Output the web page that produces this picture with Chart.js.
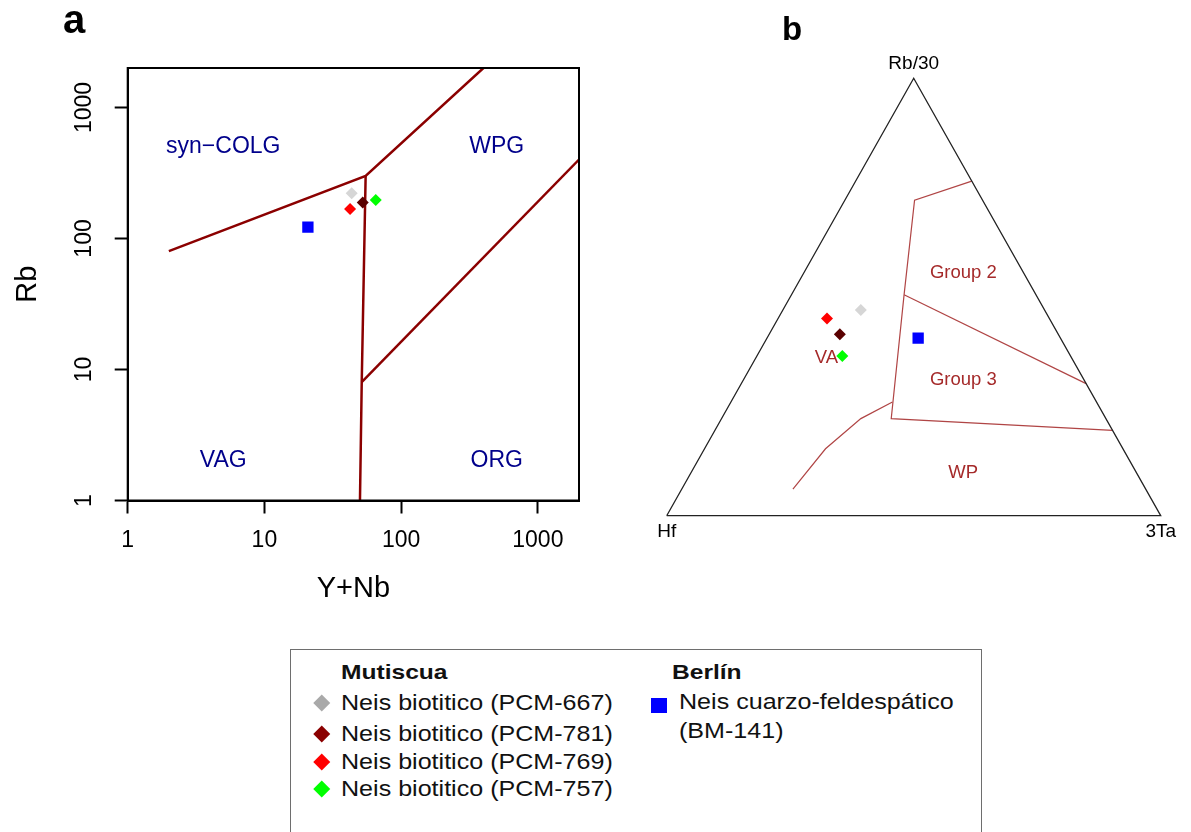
<!DOCTYPE html>
<html>
<head>
<meta charset="utf-8">
<script src="https://cdn.jsdelivr.net/npm/chart.js@4"></script>
<style>
  body { margin: 0; background: #fff; overflow: hidden; font-family: "Liberation Sans", Arial, sans-serif; }
  #wrap { position: relative; width: 1191px; height: 832px; overflow: hidden; }
  canvas { position: absolute; }
  #legendBox { position: absolute; left: 290px; top: 649px; width: 690px; height: 240px; border: 1px solid #6e6e6e; }
  .lg { position: absolute; white-space: nowrap; line-height: 1; color: #111; transform-origin: 0 50%; }
  .hd { font-weight: bold; font-size: 21px; transform: translateY(-50%) scaleX(1.17); }
  .it { font-size: 22px; transform: translateY(-50%) scaleX(1.14); }
  .mk { position: absolute; }
</style>
</head>
<body>
<div id="wrap">
  <canvas id="cA" width="620" height="640" style="left:0;top:0"></canvas>
  <canvas id="cB" width="571" height="580" style="left:620px;top:0"></canvas>
  <div id="legendBox"></div>
</div>
<script>
// ---- samples (same order in both panels and legend) ----
const sampleNames = ["Neis biotitico (PCM-667)", "Neis biotitico (PCM-781)", "Neis biotitico (PCM-769)", "Neis biotitico (PCM-757)", "Neis cuarzo-feldespático (BM-141)"];
const plotColors = ["#d6d6d6", "#5a0000", "#ff0000", "#00ff00", "#0000ff"];
const legendColors = ["#a9a9a9", "#8b0000", "#ff0000", "#00ff00", "#0000ff"];
const markerStyles = ["rectRot", "rectRot", "rectRot", "rectRot", "rect"];

// panel a: Rb vs Y+Nb
const yNb = [43.5, 52.4, 42.3, 65.2, 20.8];
const rb = [221, 188, 168, 197, 122];

// panel b: Hf - Rb/30 - 3Ta (fractions)
const hfT = [0.372, 0.442, 0.450, 0.462, 0.288];
const rbT = [0.470, 0.415, 0.451, 0.365, 0.406];
const taT = [0.158, 0.143, 0.099, 0.173, 0.306];

// panel a discrimination boundaries
const bndAx = [[2, 55, 400], [55, 51.5, 50], [51.5, 2000]];
const bndAy = [[80, 300, 2000], [300, 8, 1], [8, 400]];
const fieldsA = ["syn\u2212COLG", "WPG", "VAG", "ORG"];
const fieldsAx = [5, 500, 5, 500];
const fieldsAy = [500, 500, 2, 2];
const ticksA = [1, 10, 100, 1000];

// panel b boundaries as [Hf, Rb/30, 3Ta]
const bndB = [
  [[0, 0.765, 0.235], [0.1375, 0.7215, 0.141], [0.267, 0.505, 0.228], [0.4345, 0.222, 0.3435], [0, 0.195, 0.805]],
  [[0.267, 0.505, 0.228], [0, 0.302, 0.698]],
  [[0.413, 0.260, 0.327], [0.496, 0.222, 0.282], [0.602, 0.153, 0.245], [0.714, 0.061, 0.225]]
];
const triangle = [[1, 0, 0], [0, 1, 0], [0, 0, 1], [1, 0, 0]];
const fieldsB = ["Group 2", "Group 3", "WP", "VA"];
const fieldsBpos = [[0.122, 0.555, 0.323], [0.244, 0.311, 0.445], [0.351, 0.098, 0.551], [0.496, 0.361, 0.143]];
const apexNames = ["Hf", "Rb/30", "3Ta"];

Chart.defaults.font.family = '"Liberation Sans", Arial, sans-serif';
Chart.defaults.color = "#000";

function tern(c) {
  const s = c[0] + c[1] + c[2];
  return { x: (c[2] + c[1] / 2) / s, y: c[1] / s };
}

function pointSets(xs, ys, conv) {
  return sampleNames.map((n, i) => ({
    label: n,
    data: [conv ? conv(i) : { x: xs[i], y: ys[i] }],
    pointStyle: markerStyles[i],
    pointRadius: markerStyles[i] === "rect" ? 8 : 6,
    backgroundColor: plotColors[i],
    borderColor: plotColors[i],
    borderWidth: 0
  }));
}

// ---------- panel a ----------
const frameA = {
  id: "frameA",
  beforeDatasetsDraw(chart) {
    const { ctx, chartArea: a, scales: { x, y } } = chart;
    ctx.save();
    ctx.fillStyle = "#00008b";
    ctx.font = '23px "Liberation Sans"';
    ctx.textAlign = "center";
    ctx.textBaseline = "middle";
    fieldsA.forEach((t, i) => ctx.fillText(t, x.getPixelForValue(fieldsAx[i]), y.getPixelForValue(fieldsAy[i])));
    ctx.restore();
  },
  afterDraw(chart) {
    const { ctx, chartArea: a } = chart;
    ctx.save();
    ctx.strokeStyle = "#000";
    ctx.lineWidth = 2;
    ctx.strokeRect(a.left, a.top, a.right - a.left, a.bottom - a.top);
    ctx.font = 'bold 40px "Liberation Sans"';
    ctx.fillStyle = "#000";
    ctx.textAlign = "center";
    ctx.textBaseline = "middle";
    ctx.fillText("a", 74, 22);
    ctx.restore();
  }
};

const lineSetsA = bndAx.map((xs, k) => ({
  data: xs.map((v, j) => ({ x: v, y: bndAy[k][j] })),
  showLine: true,
  pointRadius: 0,
  borderColor: "#8b0000",
  borderWidth: 2.5
}));

new Chart(document.getElementById("cA"), {
  type: "scatter",
  data: { datasets: [...pointSets(yNb, rb), ...lineSetsA] },
  options: {
    responsive: false,
    animation: false,
    layout: { padding: { left: 0, top: 68, right: 41, bottom: 0 } },
    plugins: { legend: { display: false }, tooltip: { enabled: false } },
    scales: {
      x: {
        type: "logarithmic", min: 1, max: 2000, position: "bottom",
        afterBuildTicks: s => { s.ticks = ticksA.map(v => ({ value: v })); },
        afterFit: s => { s.height = 139.5; },
        ticks: { callback: v => String(v), font: { size: 23 }, color: "#000", padding: 13, maxRotation: 0, autoSkip: false },
        grid: { drawOnChartArea: false, tickLength: 13, tickColor: "#000", tickWidth: 2 },
        border: { color: "#000", width: 2 },
        title: { display: true, text: "Y+Nb", font: { size: 29 }, color: "#000", padding: { bottom: 34 } }
      },
      y: {
        type: "logarithmic", min: 1, max: 2000, position: "left",
        afterBuildTicks: s => { s.ticks = ticksA.map(v => ({ value: v })); },
        afterFit: s => { s.width = 127.7; },
        ticks: { callback: v => String(v), font: { size: 23 }, color: "#000", padding: 4, minRotation: 90, maxRotation: 90, crossAlign: "center", autoSkip: false },
        grid: { drawOnChartArea: false, tickLength: 13, tickColor: "#000", tickWidth: 2 },
        border: { color: "#000", width: 2 },
        title: { display: true, text: "Rb", font: { size: 29 }, color: "#000", padding: { top: 11 } }
      }
    }
  },
  plugins: [frameA]
});

// ---------- panel b ----------
const ternText = {
  id: "ternText",
  beforeDatasetsDraw(chart) {
    const { ctx, scales: { x, y } } = chart;
    ctx.save();
    ctx.fillStyle = "#a52a2a";
    ctx.font = '18.5px "Liberation Sans"';
    ctx.textAlign = "center";
    ctx.textBaseline = "middle";
    fieldsB.forEach((t, i) => {
      const p = tern(fieldsBpos[i]);
      ctx.fillText(t, x.getPixelForValue(p.x), y.getPixelForValue(p.y));
    });
    ctx.restore();
  },
  afterDraw(chart) {
    const { ctx, scales: { x, y } } = chart;
    ctx.save();
    ctx.fillStyle = "#000";
    ctx.font = '19px "Liberation Sans"';
    ctx.textAlign = "center";
    ctx.textBaseline = "middle";
    const offs = [16, -15, 16];
    [0, 1, 2].forEach(k => {
      const p = tern(triangle[k]);
      ctx.fillText(apexNames[k], x.getPixelForValue(p.x), y.getPixelForValue(p.y) + offs[k]);
    });
    ctx.font = 'bold 33px "Liberation Sans"';
    ctx.fillText("b", 172, 31);
    ctx.restore();
  }
};

const lineSetsB = [
  { data: triangle.map(tern), showLine: true, pointRadius: 0, borderColor: "#222", borderWidth: 1.3, clip: false },
  ...bndB.map(l => ({ data: l.map(tern), showLine: true, pointRadius: 0, borderColor: "#b04545", borderWidth: 1.2, clip: false }))
];

new Chart(document.getElementById("cB"), {
  type: "scatter",
  data: { datasets: [...pointSets(null, null, i => tern([hfT[i], rbT[i], taT[i]])), ...lineSetsB] },
  options: {
    responsive: false,
    animation: false,
    layout: { padding: { left: 46.7, right: 30.3, top: 78.3, bottom: 64.3 } },
    plugins: { legend: { display: false }, tooltip: { enabled: false } },
    scales: {
      x: { type: "linear", min: 0, max: 1, display: false },
      y: { type: "linear", min: 0, max: 1, display: false }
    }
  },
  plugins: [ternText]
});

// ---------- legend ----------
const groupNames = ["Mutiscua", "Berlín"];
const groupOf = [0, 0, 0, 0, 1];
const rowY = [703, 734, 762, 789];
const wrap = document.getElementById("wrap");

function addText(cls, txt, left, top) {
  const d = document.createElement("div");
  d.className = "lg " + cls;
  d.textContent = txt;
  d.style.left = left + "px";
  d.style.top = top + "px";
  wrap.appendChild(d);
}
function addMarker(i, cx, cy) {
  const m = document.createElement("div");
  m.className = "mk";
  m.style.background = legendColors[i];
  if (markerStyles[i] === "rect") {
    m.style.width = "16px"; m.style.height = "15px";
    m.style.left = (cx - 8) + "px"; m.style.top = (cy - 7.5) + "px";
  } else {
    m.style.width = "11.5px"; m.style.height = "11.5px";
    m.style.left = (cx - 5.75) + "px"; m.style.top = (cy - 5.75) + "px";
    m.style.transform = "rotate(45deg)";
  }
  wrap.appendChild(m);
}

addText("hd", groupNames[0], 341, 671);
addText("hd", groupNames[1], 672, 671);
let r = 0;
sampleNames.forEach((n, i) => {
  if (groupOf[i] === 0) {
    addMarker(i, 322, rowY[r]);
    addText("it", n, 341, rowY[r]);
    r++;
  } else {
    const cut = n.indexOf(" (");
    addMarker(i, 659, 705);
    addText("it", n.slice(0, cut), 679, 702);
    addText("it", n.slice(cut + 1), 679, 731);
  }
});
</script>
</body>
</html>
